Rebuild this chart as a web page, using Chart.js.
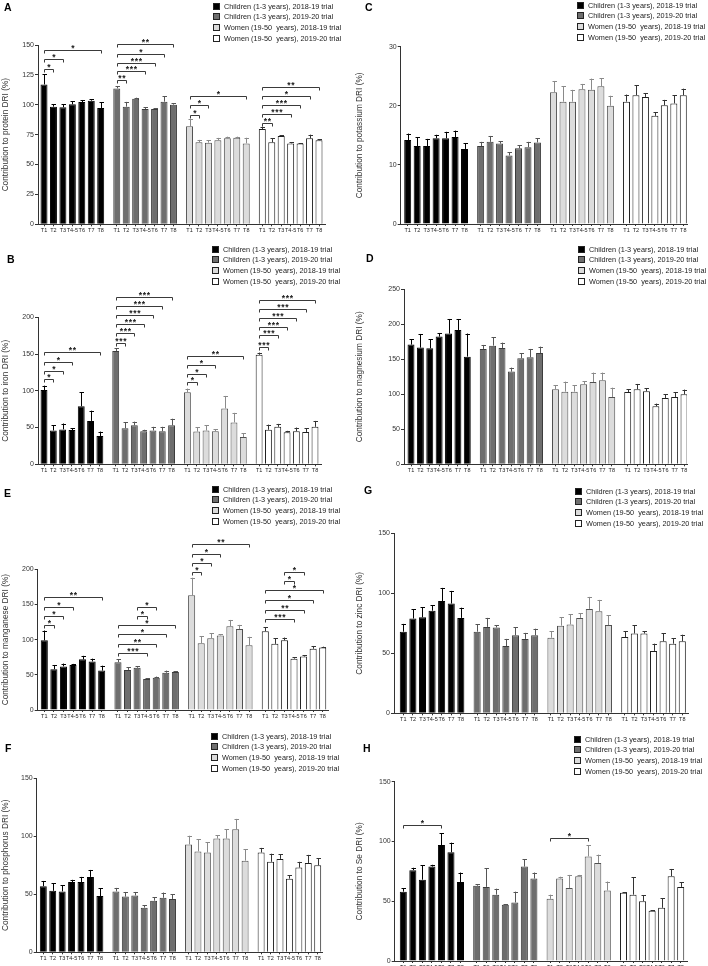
<!DOCTYPE html>
<html><head><meta charset="utf-8">
<script src="https://cdn.jsdelivr.net/npm/chart.js@4/dist/chart.umd.min.js"></script>
<style>
html,body{margin:0;padding:0;background:#fff;width:708px;height:966px;overflow:hidden;position:relative;font-family:"Liberation Sans",Arial,sans-serif}
canvas{position:absolute}
.letter{position:absolute;font-weight:bold;font-size:10.5px;line-height:12px;color:#000}
.legend{position:absolute;font-size:7.3px;color:#222}
.legend .row{position:absolute;left:0;height:9px;display:flex;align-items:center;white-space:pre}
.legend .sw{width:5px;height:5px;border:1px solid #222;margin-right:4px;flex:none}
</style></head><body>
<script>
// ---------- shared categories & series ----------
const categories = ['T1','T2','T3','T4-5','T6','T7','T8'];
const seriesNames = ['Children (1-3 years), 2018-19 trial','Children (1-3 years), 2019-20 trial','Women (19-50  years), 2018-19 trial','Women (19-50  years), 2019-20 trial'];

// ---------- A: protein ----------
const proteinValues = [
  [117, 98.4, 97.9, 100.4, 102.3, 103.4, 97.3],
  [113.7, 98.4, 105.1, 96.5, 96.5, 102.6, 100.1],
  [82, 68.6, 68.3, 70.3, 71.9, 72.5, 67.7],
  [79.7, 68.6, 73.9, 67.7, 67.5, 71.9, 70.3]];
const proteinErrors = [
  [8.6, 2, 2.5, 2.6, 1.7, 1.1, 5],
  [2, 4, 0.8, 1.4, 0.8, 4.4, 1.1],
  [6, 2, 2, 2, 1.4, 0.8, 4.7],
  [2, 3.3, 0.5, 0.9, 0.4, 3.1, 0.8]];
const proteinSig = [
  [0,0,1,130.2,'*'],[0,0,2,138.3,'*'],[0,0,6,145.8,'*'],
  [1,0,1,120.7,'**'],[1,0,3,128.2,'***'],[1,0,4,135.2,'***'],[1,0,5,142.5,'*'],[1,0,6,150.8,'**'],
  [2,0,1,91.4,'*'],[2,0,2,99.5,'*'],[2,0,6,107.3,'*'],
  [3,0,1,85,'**'],[3,0,3,92.3,'***'],[3,0,4,99.5,'***'],[3,0,5,107.3,'*'],[3,0,6,115.1,'**']];

// ---------- B: iron ----------
const ironValues = [
  [101, 46, 47.5, 46.5, 79, 59, 38.5],
  [154, 49, 53, 45, 46, 45, 53],
  [98, 44.5, 46, 45, 76, 57, 37],
  [149, 47, 51, 43.5, 45, 44, 51]];
const ironErrors = [
  [6, 7, 8, 2.5, 19, 14, 6],
  [4, 8, 5, 2, 5, 6, 9],
  [5, 6, 7, 3, 17, 13, 5],
  [3, 7, 4, 2, 5, 5, 8]];
const ironSig = [
  [0,0,1,116.1,'*'],[0,0,2,127.4,'*'],[0,0,3,139.6,'*'],[0,0,6,152.4,'**'],
  [1,0,1,164.6,'***'],[1,0,2,179.1,'***'],[1,0,3,190.9,'***'],[1,0,4,203.1,'***'],[1,0,5,215.4,'***'],[1,0,6,228,'***'],
  [2,0,1,112.4,'*'],[2,0,2,123,'*'],[2,0,3,135.1,'*'],[2,0,6,147.5,'**'],
  [3,0,1,159.2,'***'],[3,0,2,175.9,'***'],[3,0,3,187.2,'***'],[3,0,4,199.5,'***'],[3,0,5,211.3,'***'],[3,0,6,223.5,'***']];

// ---------- C: potassium ----------
const potassiumValues = [
  [14.2, 13.2, 13.2, 14.5, 14.5, 14.7, 12.7],
  [13.2, 13.9, 13.6, 11.6, 12.8, 13.0, 13.8],
  [22.3, 20.7, 20.7, 22.8, 22.7, 23.3, 20.0],
  [20.7, 21.8, 21.5, 18.3, 20.1, 20.4, 21.8]];
const potassiumErrors = [
  [1.1, 1.5, 1.2, 0.6, 1.1, 1.1, 1.0],
  [0.7, 1.0, 0.4, 0.5, 0.5, 0.9, 0.7],
  [1.9, 2.6, 2.0, 0.9, 1.9, 1.4, 1.7],
  [1.2, 1.7, 0.6, 0.6, 0.9, 1.4, 1.1]];

// ---------- D: magnesium ----------
const magnesiumValues = [
  [171, 166.7, 165.7, 182.4, 186.7, 191.9, 153.8],
  [164.8, 169.5, 166.2, 132.4, 151.4, 152.9, 159],
  [107.1, 103.8, 103.8, 114.3, 117.6, 120, 96.2],
  [103.3, 107.1, 104.3, 82.9, 94.8, 96.2, 100]];
const magnesiumErrors = [
  [8, 19.5, 13.3, 5.2, 20.9, 15.7, 33],
  [5.7, 11.9, 7.6, 5.7, 7.6, 11.9, 9.1],
  [6.2, 14.3, 9.1, 4.3, 13.4, 11, 13.3],
  [3.8, 7.7, 4.7, 3.8, 5.2, 6.7, 6.7]];

// ---------- E: manganese ----------
const manganeseValues = [
  [99, 58, 62, 64, 72, 69, 56],
  [68, 57, 60, 44, 46, 53, 54],
  [163, 95, 102, 106, 119, 115, 92],
  [112, 94, 99, 73, 76, 87, 89]];
const manganeseErrors = [
  [14, 6, 4, 1.5, 5, 4, 7],
  [4, 4, 2, 1, 1.5, 3, 1],
  [25, 10, 7, 2, 9, 6, 12],
  [6, 8, 4, 2, 2, 4, 1]];
const manganeseSig = [
  [0,0,1,120.9,'*'],[0,0,2,133.6,'*'],[0,0,3,146.9,'*'],[0,0,6,161.1,'**'],
  [1,0,3,80.6,'***'],[1,0,4,94.3,'**'],[1,0,5,107.6,'*'],[1,0,6,120.9,'*'],[1,2,3,134.1,'*'],[1,2,4,146.9,'*'],
  [2,0,1,195.7,'*'],[2,0,2,208.5,'*'],[2,0,3,221.7,'*'],[2,0,6,236,'**'],
  [3,0,3,129.4,'***'],[3,0,4,142.2,'**'],[3,0,5,156.4,'*'],[3,0,6,170.6,'*'],[3,2,3,183.8,'*'],[3,2,4,195.7,'*']];

// ---------- G: zinc ----------
const zincValues = [
  [68, 79, 80, 85.5, 93.5, 91.5, 79.5],
  [68, 72, 71.5, 56, 65, 62, 65],
  [63, 73, 74, 79.5, 87, 85, 73.5],
  [63.5, 66.5, 66.5, 52, 60, 58, 60]];
const zincErrors = [
  [6.5, 7.5, 8.5, 4.5, 11, 10.5, 8.5],
  [6, 7.5, 2, 6, 6.5, 5, 5.5],
  [5.5, 7, 8.5, 4, 10, 9.5, 8],
  [5, 7, 2, 6, 6.5, 4.5, 5.5]];

// ---------- F: phosphorus ----------
const phosphorusValues = [
  [57, 53, 52.5, 60.5, 60.5, 65, 48.5],
  [52.5, 48, 49, 38.5, 44.5, 47, 46],
  [93, 87, 86, 98, 98, 106, 79],
  [86, 78, 80.5, 63.5, 73, 77, 75]];
const phosphorusErrors = [
  [4.5, 6.5, 5.5, 2, 4.5, 6, 6.5],
  [3, 4, 3, 2, 3, 4.5, 4],
  [7.5, 10.5, 9, 3, 8, 9, 10],
  [4, 7, 4, 3, 5, 7, 6]];

// ---------- H: selenium ----------
const seleniumValues = [
  [58, 76, 68, 79, 97, 91, 66],
  [63, 62, 55.5, 47, 49, 79, 69],
  [52, 69, 61, 71, 87.5, 82, 59],
  [57, 55.5, 50, 42, 44.5, 71, 62]];
const seleniumErrors = [
  [3, 2, 12, 1.5, 10, 8, 8],
  [1, 15.5, 5, 0.5, 9, 6, 5],
  [3.5, 1.5, 11, 1, 9.5, 7, 7.5],
  [0.5, 14.5, 5, 0.5, 8, 6, 4]];
const seleniumSig = [[0,0,4,113.7,'*'],[2,0,4,103.2,'*']];

// ---------- styling ----------
const fills = ['#000000','#6e6e6e','#dcdcdc','#ffffff'];
const borders = ['#000000','#3c3c3c','#505050','#1e1e1e'];
const errColors = ['#000000','#555555','#8a8a8a','#333333'];
const GROUP_STEP = 7.7;
const slot = (g,i) => g*GROUP_STEP + i;
const FONT = "'Liberation Sans', Arial, sans-serif";
Chart.defaults.font.family = FONT;

const errorBarPlugin = {
  id:'errbars',
  afterDatasetsDraw(chart){
    const ctx = chart.ctx, ys = chart.scales.y;
    chart.data.datasets.forEach((ds,di)=>{
      const meta = chart.getDatasetMeta(di);
      meta.data.forEach((bar,i)=>{
        const v = ds.data[i].y, e = ds.errors[i];
        const top = ys.getPixelForValue(v+e);
        const x = Math.round(bar.x)+0.5;
        ctx.save();
        ctx.strokeStyle = ds.errColor; ctx.lineWidth = 1;
        ctx.beginPath();
        ctx.moveTo(x, bar.y); ctx.lineTo(x, top);
        ctx.moveTo(x-2, Math.round(top)+0.5); ctx.lineTo(x+2.5, Math.round(top)+0.5);
        ctx.stroke();
        ctx.restore();
      });
    });
  }
};

function bracketPlugin(sig){
  return {
    id:'brackets',
    afterDatasetsDraw(chart){
      if(!sig) return;
      const ctx = chart.ctx, xs = chart.scales.x, ys = chart.scales.y;
      ctx.save();
      ctx.strokeStyle = '#3a3a3a'; ctx.fillStyle = '#1a1a1a'; ctx.lineWidth = 1;
      ctx.font = 'bold 8.5px ' + FONT; ctx.textAlign = 'center'; ctx.textBaseline = 'alphabetic';
      sig.forEach(([g,a,b,level,label])=>{
        const x1 = Math.round(xs.getPixelForValue(slot(g,a)))+0.5;
        const x2 = Math.round(xs.getPixelForValue(slot(g,b)))+0.5;
        const y = Math.round(ys.getPixelForValue(level))+0.5;
        ctx.beginPath();
        ctx.moveTo(x1, y+3); ctx.lineTo(x1, y); ctx.lineTo(x2, y); ctx.lineTo(x2, y+3);
        ctx.stroke();
        ctx.fillText(label.split('').join('\u200A'), (x1+x2)/2, y+0.5);
      });
      ctx.restore();
    }
  };
}

function makePanel(p){
  const W = 354, H = Math.round(p.yBot - p.top) + 14;
  const cv = document.createElement('canvas');
  cv.width = W; cv.height = H;
  cv.style.left = p.left+'px'; cv.style.top = p.top+'px';
  document.body.appendChild(cv);
  const span = 3*GROUP_STEP + 6;
  const pps = (p.last - p.first)/span;
  const xmin = -(p.first - p.axisL)/pps;
  const xmax = span + (p.axisR - p.last)/pps;
  const datasets = p.values.map((vals,g)=>({
    label: seriesNames[g],
    data: vals.map((v,i)=>({x: slot(g,i), y: v})),
    errors: p.errors[g],
    errColor: errColors[g],
    backgroundColor: fills[g], borderColor: borders[g], borderWidth: 1,
    grouped: false, barPercentage: 0.74, categoryPercentage: 1
  }));
  new Chart(cv, {
    type:'bar',
    data:{datasets},
    options:{
      animation:false, responsive:false, devicePixelRatio:1,
      layout:{padding:{left:0, top: p.yTop - p.top, right: p.left + W - p.axisR, bottom: H - (p.yBot - p.top) - 12}},
      plugins:{legend:{display:false}, tooltip:{enabled:false}},
      scales:{
        x:{type:'linear', min:xmin, max:xmax, offset:false,
           afterBuildTicks:(ax)=>{ const t=[]; for(let g=0;g<4;g++) for(let i=0;i<7;i++) t.push({value:slot(g,i)}); ax.ticks=t; },
           ticks:{autoSkip:false, maxRotation:0, minRotation:0, font:{size:5.5}, color:'#222', padding:1,
                  callback:(v,i)=>categories[i%7]},
           grid:{offset:false, drawOnChartArea:false, drawTicks:true, tickLength:2, color:'#333'},
           border:{color:'#333', width:1},
           afterFit:(s)=>{ s.height = 12; }},
        y:{min:0, max:p.ymax,
           ticks:{stepSize:p.step, font:{size:7}, color:'#333', padding:1},
           grid:{drawOnChartArea:false, drawTicks:true, tickLength:3, color:'#333'},
           border:{color:'#333', width:1},
           title:{display:true, text:p.title, font:{size:8.3}, color:'#333', padding:{top:1,bottom:0}},
           afterFit:(s)=>{ s.width = p.axisL - p.left; }}
      }
    },
    plugins:[errorBarPlugin, bracketPlugin(p.sig)]
  });
  // letter
  const L = document.createElement('div');
  L.className='letter'; L.textContent=p.letter;
  L.style.left = p.letterX+'px'; L.style.top = (p.letterY-6)+'px';
  document.body.appendChild(L);
  // legend
  const lg = document.createElement('div');
  lg.className='legend'; lg.style.left = p.legX+'px'; lg.style.top = p.legY+'px';
  seriesNames.forEach((n,g)=>{
    const r = document.createElement('div'); r.className='row';
    r.style.top = (g*10.8 - 4.5)+'px';
    const sw = document.createElement('span'); sw.className='sw'; sw.style.background = fills[g];
    const tx = document.createElement('span'); tx.textContent = n;
    r.appendChild(sw); r.appendChild(tx); lg.appendChild(r);
  });
  document.body.appendChild(lg);
}

const panels = [
  {letter:'A', letterX:4, letterY:7, legX:213, legY:6, title:'Contribution to protein DRI (%)', left:0, top:0,
   axisL:38, axisR:325, first:44, last:319, yTop:45, yBot:224.3, ymax:150, step:25, values:proteinValues, errors:proteinErrors, sig:proteinSig},
  {letter:'C', letterX:365, letterY:7, legX:577, legY:5, title:'Contribution to potassium DRI (%)', left:354, top:0,
   axisL:400.7, axisR:687, first:407.7, last:683.3, yTop:46.7, yBot:224, ymax:30, step:10, values:potassiumValues, errors:potassiumErrors},
  {letter:'B', letterX:7, letterY:259, legX:212, legY:249, title:'Contribution to iron DRI (%)', left:0, top:235,
   axisL:38, axisR:321, first:44, last:315, yTop:317.3, yBot:464.3, ymax:200, step:50, values:ironValues, errors:ironErrors, sig:ironSig},
  {letter:'D', letterX:366, letterY:258, legX:578, legY:249, title:'Contribution to magnesium DRI (%)', left:354, top:235,
   axisL:404, axisR:687, first:411, last:684, yTop:289.3, yBot:464.3, ymax:250, step:50, values:magnesiumValues, errors:magnesiumErrors},
  {letter:'E', letterX:4, letterY:493, legX:212, legY:489, title:'Contribution to manganese DRI (%)', left:0, top:475,
   axisL:37.7, axisR:328, first:44.3, last:322.7, yTop:569.3, yBot:710, ymax:200, step:50, values:manganeseValues, errors:manganeseErrors, sig:manganeseSig},
  {letter:'G', letterX:364, letterY:490, legX:575, legY:491, title:'Contribution to zinc DRI (%)', left:354, top:475,
   axisL:394, axisR:688, first:403.3, last:682.3, yTop:533.3, yBot:713.3, ymax:150, step:50, values:zincValues, errors:zincErrors},
  {letter:'F', letterX:5, letterY:748, legX:211, legY:736, title:'Contribution to phosphorus DRI (%)', left:0, top:715,
   axisL:36.7, axisR:322, first:43.3, last:317.7, yTop:778.3, yBot:952.3, ymax:150, step:50, values:phosphorusValues, errors:phosphorusErrors},
  {letter:'H', letterX:363, letterY:748, legX:574, legY:739, title:'Contribution to Se DRI (%)', left:354, top:715,
   axisL:394.7, axisR:687, first:403.3, last:680.7, yTop:781.7, yBot:961, ymax:150, step:50, values:seleniumValues, errors:seleniumErrors, sig:seleniumSig}
];
panels.forEach(makePanel);
</script>
</body></html>
